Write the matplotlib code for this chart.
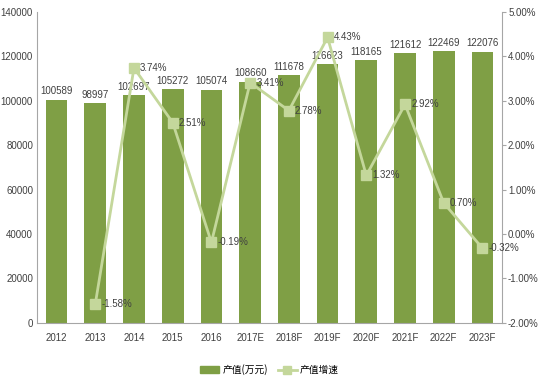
import matplotlib.pyplot as plt
import numpy as np
from matplotlib.patches import Patch
from matplotlib.lines import Line2D

plt.rcParams['font.family'] = ['Liberation Sans', 'Noto Sans CJK SC', 'DejaVu Sans']

years = ['2012', '2013', '2014', '2015', '2016', '2017E', '2018F', '2019F',
         '2020F', '2021F', '2022F', '2023F']
output_value = [100589, 98997, 102697, 105272, 105074, 108660, 111678, 116623,
                118165, 121612, 122469, 122076]
growth = [None, -1.58, 3.74, 2.51, -0.19, 3.41, 2.78, 4.43, 1.32, 2.92, 0.70, -0.32]

bar_color = '#7F9F45'
line_color = '#C4D79B'
axis_color = '#A6A6A6'
text_color = '#404040'
fs = 7

fig = plt.figure(figsize=(5.39, 3.88), dpi=100)
ax = fig.add_axes([0.069, 0.168, 0.862, 0.801])
x = np.arange(len(years))

# 柱状图: 产值
ax.bar(x, output_value, width=0.56, color=bar_color, zorder=1)
for xi, v in zip(x, output_value):
    ax.text(xi, v + 1500, str(v), ha='center', va='bottom', fontsize=fs, color=text_color)

ax.set_ylim(0, 140000)
ax.set_yticks(range(0, 140001, 20000))
ax.set_xlim(-0.5, len(years) - 0.5)
ax.set_xticks(x)
ax.set_xticklabels(years)
ax.tick_params(axis='both', labelsize=fs, colors=text_color, length=0, pad=7)
ax.tick_params(axis='y', pad=3)
for s in ['top', 'right']:
    ax.spines[s].set_visible(False)
for s in ['left', 'bottom']:
    ax.spines[s].set_color(axis_color)

# 折线图: 增速
ax2 = ax.twinx()
gx = [xi for xi, g in zip(x, growth) if g is not None]
gy = [g for g in growth if g is not None]
ax2.plot(gx, gy, color=line_color, linewidth=2, marker='s', markersize=7,
         markerfacecolor=line_color, markeredgecolor=line_color, zorder=3)
for xi, g in zip(gx, gy):
    ax2.text(xi + 0.16, g, '%.2f%%' % g, ha='left', va='center', fontsize=fs, color=text_color)
ax2.set_ylim(-2, 5)
ax2.set_yticks(range(-2, 6))
ax2.set_yticklabels(['%.2f%%' % t for t in range(-2, 6)])
ax2.tick_params(axis='y', labelsize=fs, colors=text_color, length=3, direction='out',
                color=axis_color, pad=1.5)
for s in ['top', 'left', 'bottom']:
    ax2.spines[s].set_visible(False)
ax2.spines['right'].set_color(axis_color)

handles = [Patch(color=bar_color, label='产值(万元)'),
           Line2D([0], [0], color=line_color, linewidth=2, marker='s', markersize=6, label='产值增速')]
fig.legend(handles=handles, loc='lower center', bbox_to_anchor=(0.5, 0.01), ncol=2, frameon=False,
           handlelength=2.0, columnspacing=1.0, handletextpad=0.3,
           prop={'family': ['Noto Sans CJK SC'], 'size': 7})

fig.savefig('out.png', dpi=100)
